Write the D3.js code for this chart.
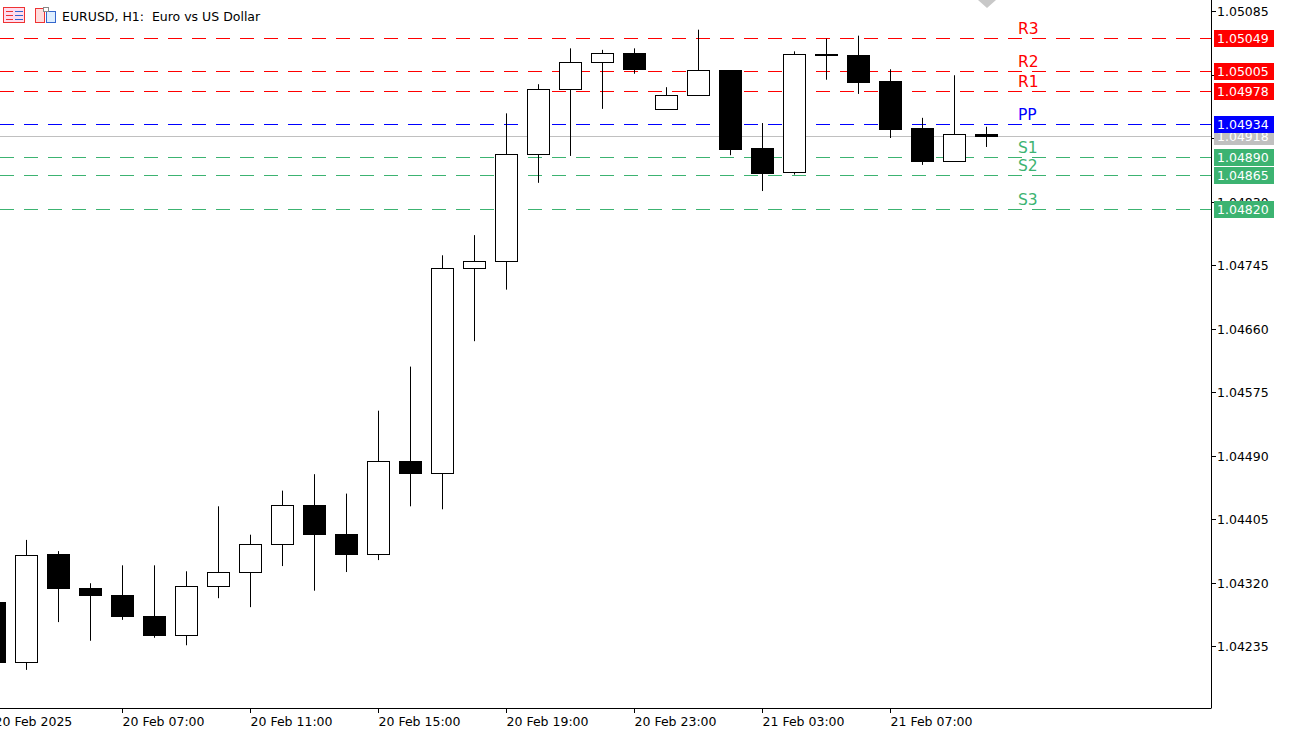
<!DOCTYPE html>
<html><head><meta charset="utf-8">
<script src="https://cdn.jsdelivr.net/npm/d3@7"></script>
<style>body{margin:0;background:#fff}svg{display:block;font-family:"DejaVu Sans",sans-serif}</style>
</head><body><svg id="c" width="1290" height="733"></svg>
<script>
const times = ["2025-02-20T03:00","2025-02-20T04:00","2025-02-20T05:00","2025-02-20T06:00","2025-02-20T07:00","2025-02-20T08:00","2025-02-20T09:00","2025-02-20T10:00","2025-02-20T11:00","2025-02-20T12:00","2025-02-20T13:00","2025-02-20T14:00","2025-02-20T15:00","2025-02-20T16:00","2025-02-20T17:00","2025-02-20T18:00","2025-02-20T19:00","2025-02-20T20:00","2025-02-20T21:00","2025-02-20T22:00","2025-02-20T23:00","2025-02-21T00:00","2025-02-21T01:00","2025-02-21T02:00","2025-02-21T03:00","2025-02-21T04:00","2025-02-21T05:00","2025-02-21T06:00","2025-02-21T07:00","2025-02-21T08:00","2025-02-21T09:00","2025-02-21T10:00"];
const open  = [1.04294,1.04214,1.04358,1.04313,1.04303,1.04275,1.04250,1.04315,1.04334,1.04372,1.04424,1.04385,1.04358,1.04483,1.04467,1.04741,1.04750,1.04894,1.04981,1.05017,1.05029,1.04954,1.04973,1.05006,1.04902,1.04870,1.05027,1.05026,1.04991,1.04928,1.04884,1.04920];
const high  = [1.04299,1.04377,1.04362,1.04319,1.04343,1.04343,1.04335,1.04422,1.04384,1.04443,1.04465,1.04439,1.04550,1.04609,1.04758,1.04785,1.04948,1.04987,1.05035,1.05033,1.05035,1.04983,1.05060,1.05006,1.04935,1.05031,1.05048,1.05052,1.05007,1.04942,1.04999,1.04930];
const low   = [1.04210,1.04203,1.04267,1.04242,1.04270,1.04246,1.04236,1.04299,1.04287,1.04342,1.04309,1.04334,1.04350,1.04422,1.04418,1.04643,1.04712,1.04855,1.04891,1.04954,1.05001,1.04954,1.04973,1.04892,1.04844,1.04866,1.04993,1.04974,1.04915,1.04879,1.04884,1.04903];
const close = [1.04214,1.04357,1.04313,1.04303,1.04275,1.04250,1.04315,1.04334,1.04372,1.04424,1.04385,1.04358,1.04483,1.04467,1.04741,1.04750,1.04894,1.04981,1.05017,1.05029,1.05007,1.04973,1.05006,1.04900,1.04868,1.05027,1.05027,1.04990,1.04927,1.04884,1.04920,1.04918];
const priceTicks = [1.05085,1.05000,1.04915,1.04830,1.04745,1.04660,1.04575,1.04490,1.04405,1.04320,1.04235];
const timeTicks = ["2025-02-20T03:00","2025-02-20T07:00","2025-02-20T11:00","2025-02-20T15:00","2025-02-20T19:00","2025-02-20T23:00","2025-02-21T03:00","2025-02-21T07:00"];
const timeLabels = ["20 Feb 2025","20 Feb 07:00","20 Feb 11:00","20 Feb 15:00","20 Feb 19:00","20 Feb 23:00","21 Feb 03:00","21 Feb 07:00"];
const levelNames = ["R3","R2","R1","PP","S1","S2","S3"];
const levelValues = [1.05049,1.05005,1.04978,1.04934,1.04890,1.04865,1.04820];
const levelColors = ["#ff0000","#ff0000","#ff0000","#0000ff","#3cb371","#3cb371","#3cb371"];
const lastPrice = 1.04918;

const parse = d3.timeParse("%Y-%m-%dT%H:%M");
const W=1211, H=708;
const x = d3.scaleTime().domain([parse("2025-02-20T03:00"), parse("2025-02-21T17:00")]).range([-6, W-1]);
const y = d3.scaleLinear().domain([1.04235,1.05085]).range([646,11]);
const svg = d3.select("#c");
svg.append("defs").append("clipPath").attr("id","pc").append("rect").attr("x",0).attr("y",0).attr("width",W).attr("height",H);
const g = svg.append("g").attr("clip-path","url(#pc)");
const data = times.map((t,i)=>({t:parse(t),o:open[i],h:high[i],l:low[i],c:close[i]}));
const bw = 22;
levelValues.forEach((v,i)=>{
  g.append("line").attr("x1",0).attr("x2",W).attr("y1",Math.round(y(v))+0.5).attr("y2",Math.round(y(v))+0.5)
   .attr("stroke",levelColors[i]).attr("stroke-dasharray","14,10").attr("stroke-width",1.2);
});
g.append("line").attr("x1",0).attr("x2",W).attr("y1",Math.round(y(lastPrice))+0.5).attr("y2",Math.round(y(lastPrice))+0.5).attr("stroke","#c0c0c0");
const cg = g.selectAll("g.c").data(data).join("g");
cg.append("line").attr("x1",d=>Math.round(x(d.t))+0.5).attr("x2",d=>Math.round(x(d.t))+0.5)
  .attr("y1",d=>y(d.h)).attr("y2",d=>y(d.l)).attr("stroke","#000").attr("stroke-width",1);
cg.append("rect").attr("x",d=>Math.round(x(d.t))-bw/2+0.5).attr("width",bw)
  .attr("y",d=>Math.round(y(Math.max(d.o,d.c)))+0.5)
  .attr("height",d=>Math.max(1,Math.round(y(Math.min(d.o,d.c)))-Math.round(y(Math.max(d.o,d.c)))))
  .attr("fill",d=>d.c<d.o?"#000":"#fff").attr("stroke","#000");
levelValues.forEach((v,i)=>{
  g.append("text").attr("x",1018).attr("y",y(v)-4).attr("fill",levelColors[i]).attr("font-size",15.5).text(levelNames[i]);
});
svg.append("line").attr("x1",W+0.5).attr("x2",W+0.5).attr("y1",0).attr("y2",H).attr("stroke","#000");
svg.append("line").attr("x1",0).attr("x2",W+0.5).attr("y1",H+0.5).attr("y2",H+0.5).attr("stroke","#000");
priceTicks.forEach(p=>{
  const yy=Math.round(y(p))+0.5;
  svg.append("line").attr("x1",W).attr("x2",W+5).attr("y1",yy).attr("y2",yy).attr("stroke","#000");
  svg.append("text").attr("x",1217).attr("y",yy+4.5).attr("font-size",12.5).attr("fill","#000").text(p.toFixed(5));
});
timeTicks.forEach((t,i)=>{
  const xx=Math.round(x(parse(t)))+0.5;
  svg.append("line").attr("x1",xx).attr("x2",xx).attr("y1",H).attr("y2",H+5).attr("stroke","#000");
  svg.append("text").attr("x",xx).attr("y",726).attr("font-size",12.5).attr("fill","#000").text(timeLabels[i]);
});
function priceBox(v,col,txtCol){
  const yy=Math.round(y(v));
  svg.append("rect").attr("x",1214).attr("y",yy-8).attr("width",60).attr("height",17).attr("fill",col);
  svg.append("text").attr("x",1217).attr("y",yy+5).attr("font-size",12.5).attr("fill",txtCol).text(v.toFixed(5));
}
priceBox(lastPrice,"#c0c0c0","#fff");
levelValues.forEach((v,i)=>priceBox(v,levelColors[i],"#fff"));
svg.append("path").attr("d","M978,0 L996,0 L987,8 Z").attr("fill","#c8c8c8");
const ic=svg.append("g");
ic.append("rect").attr("x",3.5).attr("y",7.5).attr("width",21).attr("height",15).attr("fill","#fde").attr("stroke","#e33");
[11,15,19].forEach(yy=>{ic.append("line").attr("x1",6).attr("x2",13).attr("y1",yy+0.5).attr("y2",yy+0.5).attr("stroke","#e33");ic.append("line").attr("x1",15).attr("x2",23).attr("y1",yy+0.5).attr("y2",yy+0.5).attr("stroke","#36c");});
ic.append("rect").attr("x",35.5).attr("y",8.5).attr("width",9).attr("height",14).attr("fill","#fdd").attr("stroke","#e33");
ic.append("rect").attr("x",46.5).attr("y",11.5).attr("width",9).attr("height",11).attr("fill","#def").attr("stroke","#36c");
ic.append("rect").attr("x",43.5).attr("y",7.5).attr("width",5).attr("height",4).attr("fill","#fff").attr("stroke","#888");
svg.append("text").attr("x",62).attr("y",21).attr("font-size",12.5).attr("fill","#000").attr("xml:space","preserve").text("EURUSD, H1:  Euro vs US Dollar");
</script></body></html>
